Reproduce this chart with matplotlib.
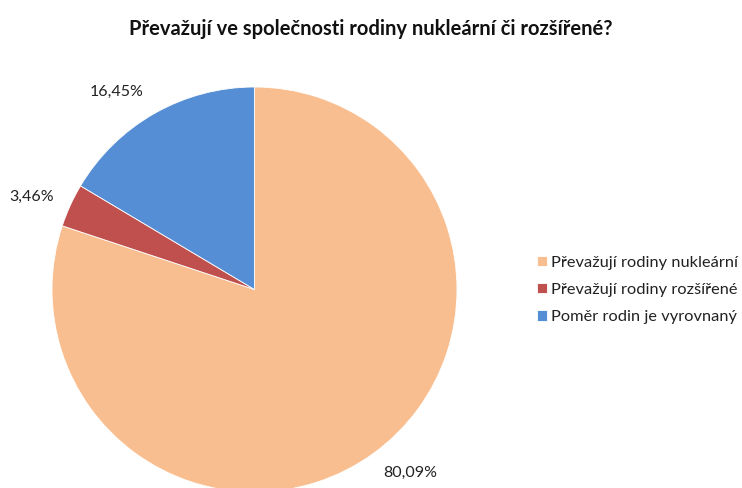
import matplotlib
matplotlib.use("Agg")
import matplotlib.pyplot as plt
import numpy as np

labels = ["Převažují rodiny nukleární", "Převažují rodiny rozšířené", "Poměr rodin je vyrovnaný"]
values = [80.09, 3.46, 16.45]
colors = ["#F9BE8F", "#C0504D", "#558ED5"]

plt.rcParams['font.family'] = ['Lato', 'DejaVu Sans']

fig = plt.figure(figsize=(7.42, 4.88), dpi=100)
# pie area in pixels: x 52..457, y 87..492 (bottom slightly cut off)
ax = fig.add_axes([52 / 742, (488 - 492) / 488, 405 / 742, 405 / 488])
ax.set_aspect('equal')

def fmt(p):
    return f"{p:.2f}".replace('.', ',') + "%"

wedges, texts = ax.pie(values, colors=colors, startangle=90, counterclock=False,
                       labels=[fmt(v) for v in values], labeldistance=1.19,
                       textprops={'fontsize': 11.5, 'color': '#222222'},
                       wedgeprops={'linewidth': 0.6, 'edgecolor': 'white'})
# nudge labels a little along the circle, like the original
shift = [4.5, 2.0, 5.3]
for w, t, s in zip(wedges, texts, shift):
    ang = np.deg2rad((w.theta1 + w.theta2) / 2 + s)
    t.set_position((1.19 * np.cos(ang), 1.19 * np.sin(ang)))
    t.set_horizontalalignment('center')
    t.set_verticalalignment('center')
    t.set_clip_on(False)
ax.set_xlim(-1, 1)
ax.set_ylim(-1, 1)
ax.axis('off')

fig.text(0.5, 1 - 29 / 488, "Převažují ve společnosti rodiny nukleární či rozšířené?",
         ha='center', va='center', fontsize=14.5, fontweight='bold', color='#111111')

fig.legend(wedges, labels, loc='center left', bbox_to_anchor=(537 / 742, 1 - 290 / 488),
           frameon=False, fontsize=11.8, handlelength=0.61, handleheight=0.61,
           handletextpad=0.25, labelspacing=0.8, borderpad=0, borderaxespad=0,
           labelcolor='#222222')

fig.savefig("out.png", dpi=100)
